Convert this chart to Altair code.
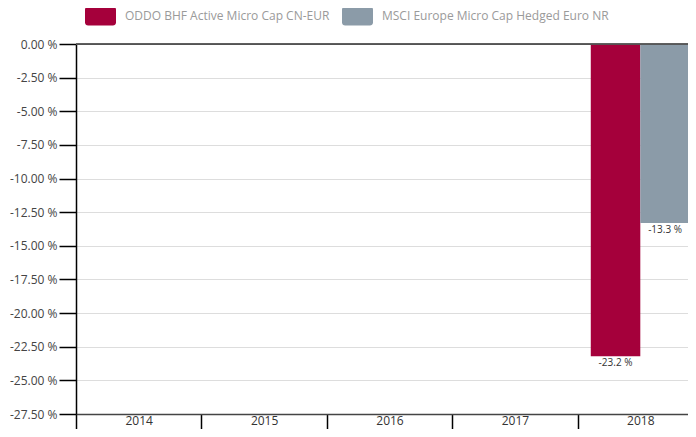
import altair as alt
import pandas as pd

years = ["2014", "2015", "2016", "2017", "2018"]
series = ["ODDO BHF Active Micro Cap CN-EUR", "MSCI Europe Micro Cap Hedged Euro NR"]
oddo = [None, None, None, None, -23.2]
msci = [None, None, None, None, -13.3]
colors = ["#a5003b", "#8b9ba8"]
y_ticks = [0.0, -2.5, -5.0, -7.5, -10.0, -12.5, -15.0, -17.5, -20.0, -22.5, -25.0, -27.5]

rows = []
for i, y in enumerate(years):
    for s, vals in zip(series, [oddo, msci]):
        if vals[i] is not None:
            rows.append({"year": y, "series": s, "value": vals[i]})
df = pd.DataFrame(rows)

FONT = "Open Sans"
legend_shape = ("M-0.8,-0.613 H0.8 A0.2,0.2 0 0 1 1,-0.413 V0.413 A0.2,0.2 0 0 1 0.8,0.613 "
                "H-0.8 A0.2,0.2 0 0 1 -1,0.413 V-0.413 A0.2,0.2 0 0 1 -0.8,-0.613 Z")

x_scale = alt.Scale(domain=years, paddingInner=0, paddingOuter=0)
xo_scale = alt.Scale(domain=series, paddingInner=0, paddingOuter=0.266)

x_enc = alt.X("year:N", scale=x_scale,
              axis=alt.Axis(title=None, labelAngle=0, tickBand="extent", tickSize=15,
                            tickColor="#000", tickWidth=1.5, domainColor="#444", domainWidth=1.5,
                            labelPadding=-14, labelFontSize=12, labelColor="#333",
                            labelFont=FONT, grid=False, labelOverlap=False))
xo_enc = alt.XOffset("series:N", scale=xo_scale)
y_enc = alt.Y("value:Q", scale=alt.Scale(domain=[-27.5, 0], nice=False, zero=False),
              axis=alt.Axis(title=None, values=y_ticks, tickCount=len(y_ticks) + 2,
                            labelExpr="(datum.value < 0 ? '-' : '') + format(abs(datum.value), '.2f') + ' %'",
                            tickSize=17, tickColor="#000", tickWidth=1.5,
                            domainColor="#000", domainWidth=1.5, labelPadding=2,
                            labelFontSize=12, labelColor="#444", labelFont=FONT,
                            labelOverlap=False, labelBound=False, labelFlush=False,
                            gridColor={"condition": {"test": "datum.value === 0", "value": "#555"},
                                       "value": "#dddddd"},
                            gridWidth=1))

bars = alt.Chart(df).mark_bar().encode(
    x=x_enc,
    xOffset=xo_enc,
    y=y_enc,
    color=alt.Color("series:N", scale=alt.Scale(domain=series, range=colors),
                    legend=alt.Legend(title=None, orient="none", direction="horizontal",
                                      legendX=9, legendY=-44, padding=0,
                                      symbolType=legend_shape, symbolSize=961,
                                      symbolStrokeWidth=0, symbolOpacity=1,
                                      labelFontSize=12, labelColor="#9a9a9a", labelFont=FONT,
                                      labelOffset=9, columnPadding=12, labelLimit=400)),
)

texts = alt.Chart(df).transform_calculate(
    label="(datum.value < 0 ? '-' : '') + format(abs(datum.value), '.1f') + ' %'"
).mark_text(baseline="top", dy=2, fontSize=10, color="#333", font=FONT).encode(
    x=alt.X("year:N", scale=x_scale),
    xOffset=alt.XOffset("series:N", scale=xo_scale),
    y=alt.Y("value:Q"),
    text="label:N",
)

zero = alt.Chart(df).mark_rule(color="#555", strokeWidth=1.5, clip=False).encode(
    y=alt.datum(0)
)

chart = alt.layer(bars, texts, zero).properties(
    width=627, height=370,
    autosize=alt.AutoSizeParams(type="none"),
    padding={"left": 68, "top": 36, "right": -15, "bottom": 15},
).configure_view(strokeWidth=0).configure(font=FONT)

chart.save("out.html", embed_options={"renderer": "svg", "actions": False})
